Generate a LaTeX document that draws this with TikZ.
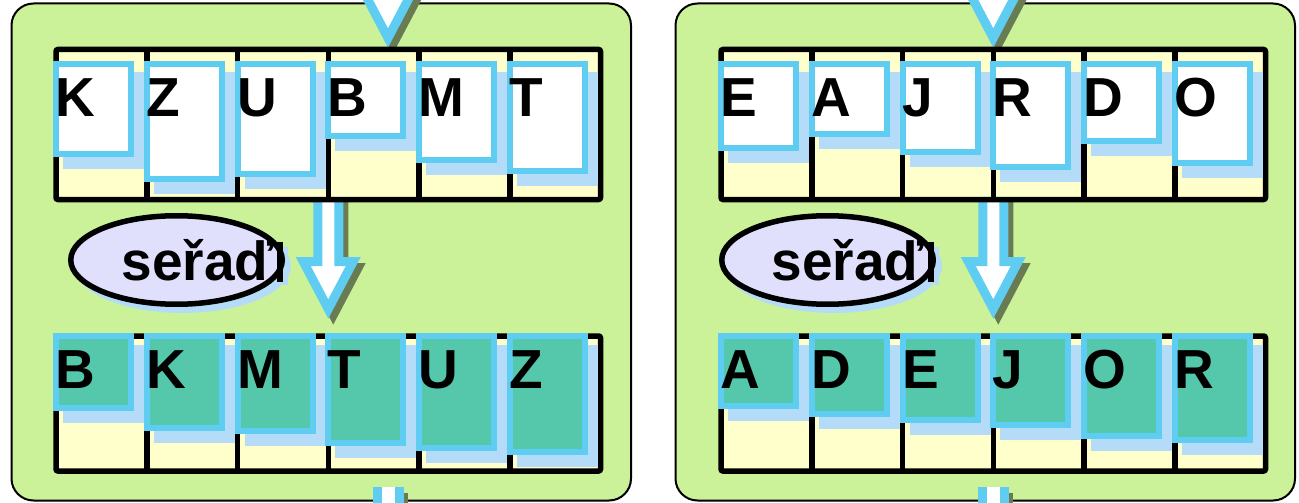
\documentclass[tikz,border=0pt]{standalone}
\usepackage{fontspec}
\setmainfont{Liberation Sans}
\usetikzlibrary{shapes.geometric}
\definecolor{panelgreen}{HTML}{CBF298}
\definecolor{cellyellow}{HTML}{FFFFCC}
\definecolor{cardblue}{HTML}{5FCCF2}
\definecolor{shadowblue}{HTML}{B4DCF8}
\definecolor{cardteal}{HTML}{55C8AB}
\definecolor{ovalfill}{HTML}{E0E0FD}
\definecolor{arrowshadow}{HTML}{687B52}
\tikzset{
  panel/.style={fill=panelgreen, draw=black, line width=2pt, rounded corners=22pt},
  gridline/.style={draw=black, line width=5.5pt},
  cardshadow/.style={fill=shadowblue},
  cardbox/.style={draw=cardblue, line width=6pt},
  letter/.style={font=\bfseries\fontsize{55}{60}\selectfont, inner sep=0pt, anchor=base west, text=black},
  ovaltext/.style={font=\bfseries\fontsize{55}{60}\selectfont, inner sep=0pt, anchor=base west, text=black},
  arrowbody/.style={draw=cardblue, fill=white, line width=9pt},
  arrowshade/.style={draw=arrowshadow, fill=arrowshadow, line width=9pt},
  oval/.style={ellipse, draw=black, line width=5.5pt, fill=ovalfill, minimum width=211.5pt, minimum height=88.5pt, inner sep=0pt},
}
% x0, ytop, ybottom
\newcommand{\cardgrid}[3]{%
  \draw[gridline, fill=cellyellow, rounded corners=2pt] (#1,#2) rectangle (#1+544.5,#3);
  \foreach \i in {1,...,5}{\draw[gridline] (#1+\i*90.75,#2) -- (#1+\i*90.75,#3);}
}
% name, x, ytop, ybottom, fill, letter
\newcommand{\cardat}[6]{%
  \fill[cardshadow] (#2+7,#3+8.5) rectangle (#2+88,#4+14.5);
  \draw[cardbox, fill=#5] (#2,#3) rectangle (#2+75,#4);
  \node[letter] (#1) at (#2-0.5,#3+52.5) {#6};
}
% cx, tip y, top y
\newcommand{\blockarrow}[3]{%
  \path[arrowshade, shift={(5,6)}] (#1-10.5,#3) -- (#1-10.5,#2-47.5) -- (#1-25,#2-47.5) -- (#1,#2) -- (#1+25,#2-47.5) -- (#1+10.5,#2-47.5) -- (#1+10.5,#3) -- cycle;
  \path[arrowbody] (#1-10.5,#3) -- (#1-10.5,#2-47.5) -- (#1-25,#2-47.5) -- (#1,#2) -- (#1+25,#2-47.5) -- (#1+10.5,#2-47.5) -- (#1+10.5,#3) -- cycle;
}
% cx
\newcommand{\arrowstub}[1]{%
  \fill[arrowshadow] (#1+10,493) rectangle (#1+20,520);
  \fill[cardblue] (#1-15,487) rectangle (#1+16,520);
  \fill[white] (#1-6,487) rectangle (#1+7,520);
}
% name, cx, text x
\newcommand{\sortoval}[3]{%
  \fill[shadowblue] (#2+6,266) ellipse [x radius=108.5pt, y radius=47pt];
  \fill[shadowblue] (#2+106.5,247) rectangle (#2+111.5,285);
  \node[oval] (#1) at (#2,260) {};
  \fill[black] (#2+100.5,242) rectangle (#2+106.5,282);
  \node[ovaltext] (#1t) at (#3,280.5) {seřaď};
}
\begin{document}
\begin{tikzpicture}[x=1pt,y=-1pt]
\useasboundingbox (0,0) rectangle (1299,503);
\clip (0,0) rectangle (1299,503);
% panels
\path[panel] (11.5,3.5) rectangle (631,500.5);
\path[panel] (675.5,3.5) rectangle (1295,500.5);
% arrows
\blockarrow{388}{38}{-60}
\blockarrow{328.25}{309}{195}
\arrowstub{388}
\blockarrow{993.25}{38}{-60}
\blockarrow{993.25}{309}{195}
\arrowstub{993}
% grids
\cardgrid{56}{49.5}{199.5}
\cardgrid{56}{336}{471}
\cardgrid{721}{49.5}{199.5}
\cardgrid{721}{336}{471}
% left top
\cardat{lt1}{56}{64}{154}{white}{K}
\cardat{lt2}{146.75}{64}{179}{white}{Z}
\cardat{lt3}{237.5}{64}{174}{white}{U}
\cardat{lt4}{328.25}{64}{136}{white}{B}
\cardat{lt5}{419}{64}{160}{white}{M}
\cardat{lt6}{509.75}{64}{171}{white}{T}
% left bottom
\cardat{lb1}{56}{336}{408}{cardteal}{B}
\cardat{lb2}{146.75}{336}{428}{cardteal}{K}
\cardat{lb3}{237.5}{336}{431}{cardteal}{M}
\cardat{lb4}{328.25}{336}{443}{cardteal}{T}
\cardat{lb5}{419}{336}{448}{cardteal}{U}
\cardat{lb6}{509.75}{336}{452}{cardteal}{Z}
% right top
\cardat{rt1}{721}{64}{148}{white}{E}
\cardat{rt2}{811.75}{64}{134}{white}{A}
\cardat{rt3}{902.5}{64}{152}{white}{J}
\cardat{rt4}{993.25}{64}{167}{white}{R}
\cardat{rt5}{1084}{64}{141}{white}{D}
\cardat{rt6}{1174.75}{64}{163}{white}{O}
% right bottom
\cardat{rb1}{721}{336}{406}{cardteal}{A}
\cardat{rb2}{811.75}{336}{414}{cardteal}{D}
\cardat{rb3}{902.5}{336}{420}{cardteal}{E}
\cardat{rb4}{993.25}{336}{425}{cardteal}{J}
\cardat{rb5}{1084}{336}{436}{cardteal}{O}
\cardat{rb6}{1174.75}{336}{440}{cardteal}{R}
% ovals
\sortoval{ovalL}{176.5}{121.3}
\sortoval{ovalR}{827.5}{771.6}
\end{tikzpicture}
\end{document}
